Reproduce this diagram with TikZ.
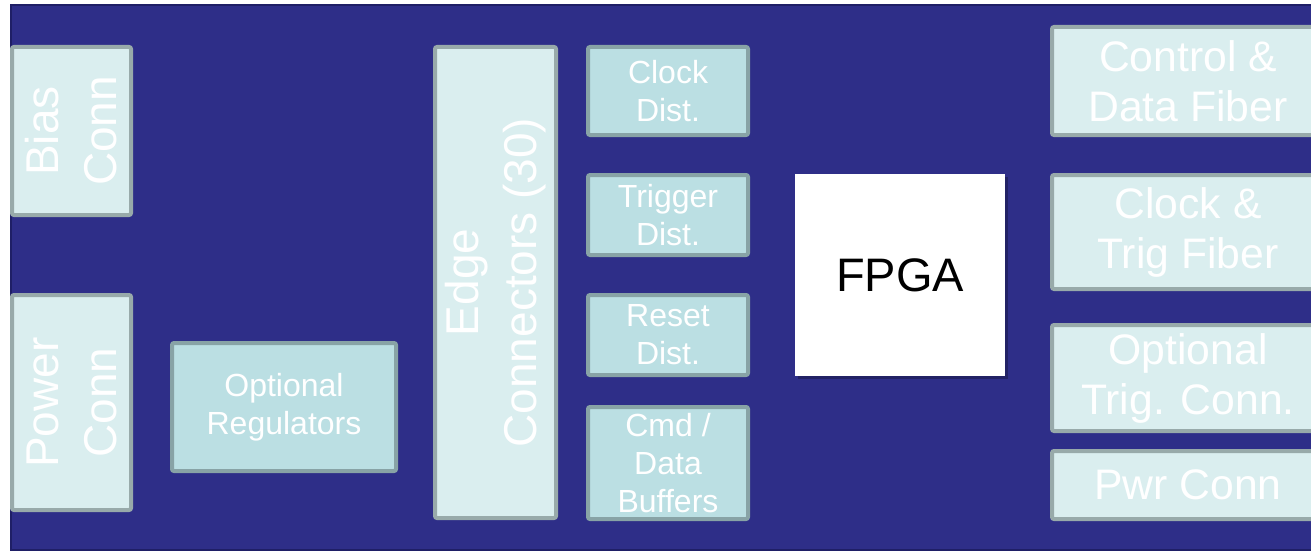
\documentclass[tikz,border=0pt]{standalone}
\usepackage{fontspec}
\setmainfont{Liberation Sans}
\definecolor{bg}{HTML}{2E2E88}
\definecolor{bgedge}{HTML}{1F1F66}
\definecolor{lightfill}{HTML}{DAEEEF}
\definecolor{lightdraw}{HTML}{98AAAA}
\definecolor{tealfill}{HTML}{BBDFE3}
\definecolor{tealdraw}{HTML}{88A3A6}
\begin{document}
\begin{tikzpicture}[x=1pt,y=-1pt,
  box/.style={draw, line width=4pt, rounded corners=2pt, inner sep=0pt, align=center, text=white},
  conn/.style={box, fill=lightfill, draw=lightdraw},
  blk/.style={box, fill=tealfill, draw=tealdraw, font=\fontsize{32}{38}\selectfont},
  bigtext/.style={font=\fontsize{46}{58}\selectfont},
  fiber/.style={conn, font=\fontsize{42.7}{50}\selectfont, minimum width=272pt},
  dist/.style={blk, minimum width=160pt},
]
\useasboundingbox (0,0) rectangle (1311,551);
\clip (0,0) rectangle (1311,551);
\fill[white] (0,0) rectangle (1311,551);
\draw[bgedge, fill=bg, line width=2pt] (11,5) rectangle (1330,550);

\node[conn, bigtext, rotate=90, minimum width=168pt, minimum height=119pt] (bias) at (71.5,131) {Bias\\Conn};
\node[conn, bigtext, rotate=90, minimum width=215pt, minimum height=119pt] (power) at (71.5,402.5) {Power\\Conn};
\node[blk, minimum width=224pt, minimum height=128pt] (reg) at (284,407) {Optional\\Regulators};
\node[conn, bigtext, rotate=90, minimum width=471pt, minimum height=121pt] (edge) at (495.5,282.5) {Edge\\Connectors (30)};

\node[dist, minimum height=88pt] (clk) at (668,91) {Clock\\Dist.};
\node[dist, minimum height=80pt] (trig) at (668,215) {Trigger\\Dist.};
\node[dist, minimum height=80pt] (rst) at (668,335) {Reset\\Dist.};
\node[dist, minimum height=112pt] (cmd) at (668,463) {Cmd /\\Data\\Buffers};

\fill[black, opacity=0.25] (798,177) rectangle (1008,379);
\node[fill=white, minimum width=210pt, minimum height=202pt, inner sep=0pt, font=\fontsize{47}{56}\selectfont] (fpga) at (900,275) {FPGA};

\node[fiber, minimum height=108pt] (cdf) at (1188,81) {Control \&\\Data Fiber};
\node[fiber, minimum height=114pt] (ctf) at (1188,232) {Clock \&\\Trig Fiber};
\node[fiber, minimum height=106pt] (otc) at (1188,378) {Optional\\Trig. Conn.};
\node[fiber, minimum height=68pt] (pwr) at (1188,485) {Pwr Conn};
\end{tikzpicture}
\end{document}
